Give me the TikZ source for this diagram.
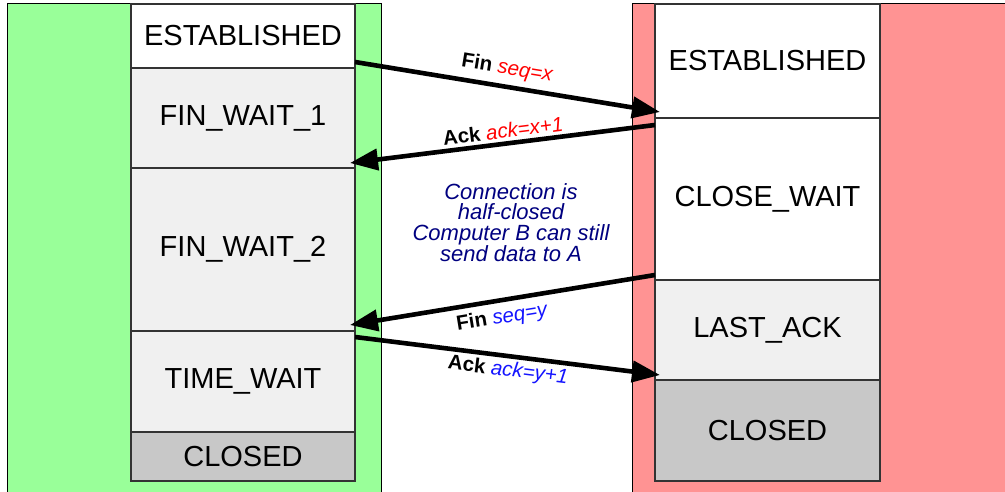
\documentclass[tikz,border=0pt]{standalone}
\usepackage{fontspec}
\setmainfont{Liberation Sans}
\usetikzlibrary{arrows.meta}
\definecolor{lgreen}{RGB}{153,255,153}
\definecolor{lpink}{RGB}{255,147,147}
\definecolor{lgray}{RGB}{240,240,240}
\definecolor{dgray}{RGB}{200,200,200}
\definecolor{navytext}{RGB}{0,0,128}
\definecolor{seqblue}{RGB}{20,20,255}
\definecolor{boxline}{RGB}{51,51,51}
\begin{document}
\begin{tikzpicture}[x=1pt,y=-1pt,
  state/.style={draw=boxline, line width=1.1pt, inner sep=0pt, font=\fontsize{29}{32}\selectfont},
  lstate/.style={state, minimum width=224pt},
  rstate/.style={state, minimum width=225pt},
  host/.style={draw=black, line width=1pt},
  msg/.style={line width=4.6pt, -{Triangle[length=28pt,width=21pt]}},
  lbl/.style={font=\fontsize{20.5}{22}\selectfont, inner sep=0pt}]
\useasboundingbox (0,0) rectangle (1005,492);
\begin{scope}
\clip (0,0) rectangle (1005,492);
\path[host, fill=lgreen] (7,4) rectangle (381,500);
\path[host, fill=lpink] (632,4) rectangle (1010,500);
\end{scope}
% left host (computer A)
\node[lstate, fill=white, minimum height=64pt] (aest) at (243,36) {ESTABLISHED};
\node[lstate, fill=lgray, minimum height=100pt] (afw1) at (243,118) {FIN\_WAIT\_1};
\node[lstate, fill=lgray, minimum height=163pt] (afw2) at (243,249.5) {FIN\_WAIT\_2};
\node[lstate, fill=lgray, minimum height=101pt] (atw) at (243,381.5) {TIME\_WAIT};
\node[lstate, fill=dgray, minimum height=49pt] (acl) at (243,456.5) {CLOSED};
% right host (computer B)
\node[rstate, fill=white, minimum height=114pt] (best) at (767.5,61) {ESTABLISHED};
\node[rstate, fill=white, minimum height=162pt] (bcw) at (767.5,199) {CLOSE\_WAIT};
\node[rstate, fill=lgray, minimum height=100pt] (bla) at (767.5,330) {LAST\_ACK};
\node[rstate, fill=dgray, minimum height=101pt] (bcl) at (767.5,430.5) {CLOSED};
% message end points
\coordinate (m1s) at (355,62);  \coordinate (m1e) at (660,112);
\coordinate (m2s) at (655,125); \coordinate (m2e) at (350,163);
\coordinate (m3s) at (655,275); \coordinate (m3e) at (350,325);
\coordinate (m4s) at (355,337); \coordinate (m4e) at (660,375);
\draw[msg] (m1s) -- (m1e);
\draw[msg] (m2s) -- (m2e);
\draw[msg] (m3s) -- (m3e);
\draw[msg] (m4s) -- (m4e);
% labels
\node[lbl, rotate=-9.3] (l1) at (507,69) {\textbf{Fin} \textcolor{red}{\itshape seq=x}};
\node[lbl, rotate=7.1] (l2) at (503,131) {\textbf{Ack} \textcolor{red}{\itshape ack=x+1}};
\node[lbl, rotate=9.3] (l3) at (502,318) {\textbf{Fin} \textcolor{seqblue}{\itshape seq=y}};
\node[lbl, rotate=-7.1] (l4) at (508,371) {\textbf{Ack} \textcolor{seqblue}{\itshape ack=y+1}};
\node[align=center, text=navytext, inner sep=0pt, font=\fontsize{22}{20.5}\selectfont\itshape] (note) at (511,222.5) {Connection is\\half-closed\\Computer B can still\\send data to A};
\end{tikzpicture}
\end{document}
